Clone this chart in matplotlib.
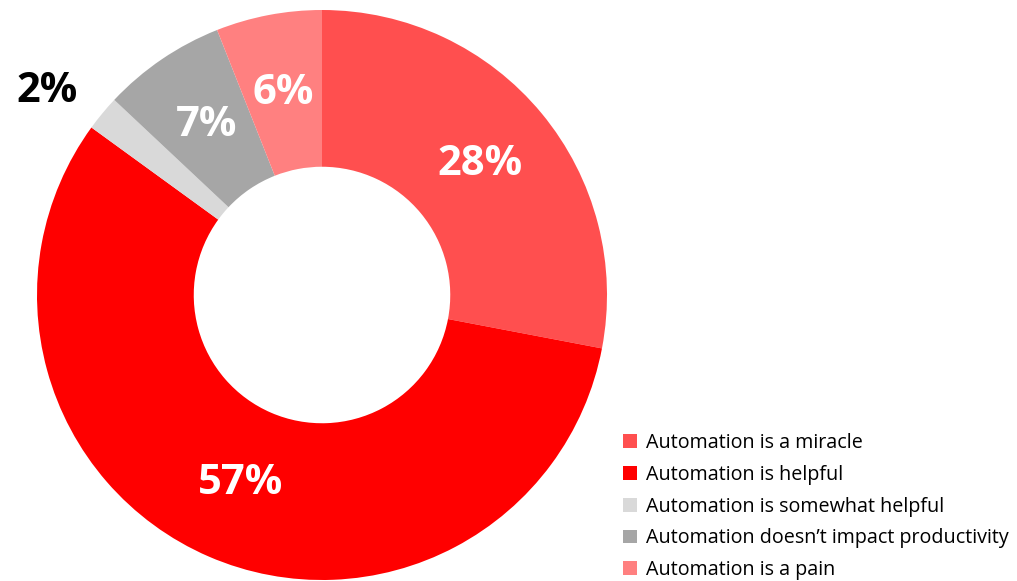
import matplotlib.pyplot as plt
from matplotlib.patches import Patch
import numpy as np

# Data
labels = ["Automation is a miracle", "Automation is helpful",
          "Automation is somewhat helpful", "Automation doesn\u2019t impact productivity",
          "Automation is a pain"]
shares = [28, 57, 2, 7, 6]
colors = ["#FF4F4F", "#FF0000", "#D9D9D9", "#A6A6A6", "#FF8080"]

W, H = 1017, 581
fig = plt.figure(figsize=(W / 100, H / 100), dpi=100)
ax = fig.add_axes([0, 0, 1, 1])

cx, cy, R = 322, H - 295, 285
wedges, texts, autotexts = ax.pie(
    shares, colors=colors, startangle=90, counterclock=False,
    center=(cx, cy), radius=R, frame=True,
    wedgeprops=dict(width=R * 0.55, linewidth=0),
    autopct="%d%%", pctdistance=0.72,
    textprops=dict(fontsize=30, fontweight="bold", color="white", family="Open Sans"))
ax.set_xlim(0, W)
ax.set_ylim(0, H)
ax.axis("off")

# small slice label goes outside
for w, t in zip(wedges, autotexts):
    if w.theta2 - w.theta1 < 10:
        ang = np.deg2rad((w.theta1 + w.theta2) / 2 + 3)
        t.set_position((cx + 1.2 * R * np.cos(ang), cy + 1.2 * R * np.sin(ang)))
        t.set_color("black")

handles = [Patch(facecolor=c, edgecolor="none") for c in colors]
fig.legend(handles, labels, loc="upper left", bbox_to_anchor=(615 / W, 1 - 425 / H),
           frameon=False, handlelength=0.7, handleheight=0.7,
           handletextpad=0.45, labelspacing=0.6, borderaxespad=0,
           prop=dict(family="Open Sans", size=14.2))

fig.savefig("out.png", dpi=100)
